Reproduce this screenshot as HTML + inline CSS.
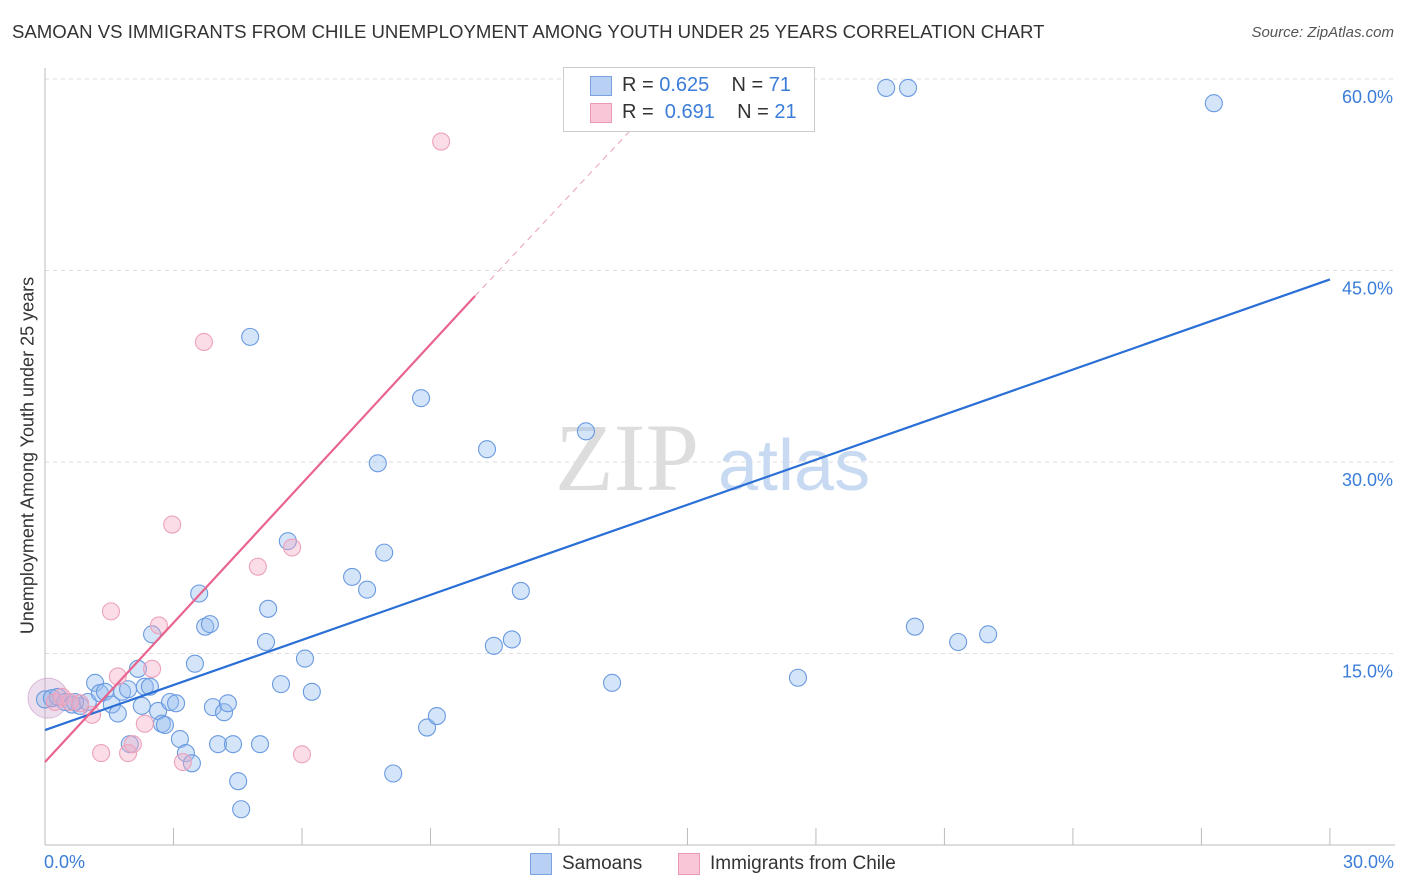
<!DOCTYPE html>
<html><head><meta charset="utf-8"><style>
body{margin:0;background:#fff;font-family:"Liberation Sans",sans-serif;}
#wrap{position:relative;width:1406px;height:892px;overflow:hidden;}
.t{position:absolute;white-space:nowrap;}
</style></head><body>
<div id="wrap">
<div class="t" style="left:12px;top:21px;font-size:18.6px;color:#333;">SAMOAN VS IMMIGRANTS FROM CHILE UNEMPLOYMENT AMONG YOUTH UNDER 25 YEARS CORRELATION CHART</div>
<div class="t" style="right:12px;top:24px;font-size:15px;color:#555;font-style:italic;">Source: ZipAtlas.com</div>
<svg id="svg" width="1406" height="892" style="position:absolute;left:0;top:0;"></svg>
</div>
<script>
const blueX=[0,0.16,0.30,0.47,0.63,0.82,1.00,1.17,1.28,1.40,1.56,1.70,1.80,1.94,2.17,2.33,2.26,2.50,2.64,2.73,2.80,2.92,3.06,3.15,3.29,3.43,3.50,3.60,3.74,3.85,3.92,4.04,4.18,4.27,4.39,4.51,4.58,4.79,5.02,5.16,5.21,5.51,5.67,6.07,6.23,7.17,7.52,7.77,7.92,8.13,8.78,8.92,9.15,10.32,10.48,10.90,11.11,12.63,13.24,17.58,19.64,20.15,20.31,21.32,22.02,27.29,1.98,2.45,0.70];
const blueY=[11.4,11.5,11.6,11.2,11.0,10.9,11.2,12.7,11.9,12.0,11.0,10.3,12.0,12.2,13.8,12.4,10.9,16.5,10.5,9.5,9.4,11.2,11.1,8.3,7.2,6.4,14.2,19.7,17.1,17.3,10.8,7.9,10.4,11.1,7.9,5.0,2.8,39.8,7.9,15.9,18.5,12.6,23.8,14.6,12.0,21.0,20.0,29.9,22.9,5.6,35.0,9.2,10.1,31.0,15.6,16.1,19.9,32.4,12.7,13.1,59.3,59.3,17.1,15.9,16.5,58.1,7.9,12.4,11.2];
const pinkX=[0.23,0.40,0.58,0.82,1.10,1.31,1.54,1.70,1.94,2.05,2.33,2.50,2.66,2.97,3.22,3.71,4.97,5.77,6.00,9.25];
const pinkY=[11.2,11.6,11.2,11.1,10.2,7.2,18.3,13.2,7.2,7.9,9.5,13.8,17.2,25.1,6.5,39.4,21.8,23.3,7.1,55.1];
const bigX=[0.07],bigY=[11.5];
const yTicks=[15,30,45,60];
const blueLine=[[0,9.0],[30,44.3]];
const pinkLine=[[0,6.5],[10.04,43.0]];
const pinkDash=[[10.04,43.0],[13.9,56.8]];
const X=v=>45+v*42.83, Y=v=>845-v*12.767;
const svg=document.getElementById('svg');const NS='http://www.w3.org/2000/svg';
function mk(tag,attrs,name){const e=document.createElementNS(NS,tag);for(const k in attrs)e.setAttribute(k,attrs[k]);


svg.appendChild(e);return e;}
yTicks.forEach(v=>{mk('line',{x1:45,x2:1395,y1:Y(v),y2:Y(v),stroke:'#ddd','stroke-dasharray':'4,4'},'gridline');
const t=mk('text',{x:1393,y:Y(v)+24,'text-anchor':'end','font-size':18,fill:'#3b7dd8','font-family':'Liberation Sans'},'y-tick-label');t.textContent=v.toFixed(1)+'%';});
mk('line',{x1:45,x2:45,y1:68,y2:845,stroke:'#bbb'},'y-axis');
mk('line',{x1:45,x2:1395,y1:845,y2:845,stroke:'#bbb'},'x-axis');
for(let i=1;i<=10;i++)mk('line',{x1:X(i*3),x2:X(i*3),y1:828,y2:845,stroke:'#bbb'},'x-tick');
const wm=mk('text',{x:555,y:490,'font-size':96,fill:'#ddd','font-family':'Liberation Serif'},'watermark-zip');wm.textContent='ZIP';
const wm2=mk('text',{x:718,y:490,'font-size':72,fill:'#c8daf2','font-family':'Liberation Sans'},'watermark-atlas');wm2.textContent='atlas';
mk('circle',{cx:X(bigX[0]),cy:Y(bigY[0]),r:20,fill:'rgba(200,160,200,0.35)',stroke:'rgba(200,150,200,0.6)'},'large-point');
blueX.forEach((x,i)=>mk('circle',{cx:X(x),cy:Y(blueY[i]),r:8.5,fill:'rgba(150,190,240,0.4)',stroke:'#6a9ae0','stroke-width':1.1},'samoan-point'));
pinkX.forEach((x,i)=>mk('circle',{cx:X(x),cy:Y(pinkY[i]),r:8.5,fill:'rgba(245,170,195,0.4)',stroke:'#eca2bb','stroke-width':1.1},'chile-point'));
mk('line',{x1:X(blueLine[0][0]),y1:Y(blueLine[0][1]),x2:X(blueLine[1][0]),y2:Y(blueLine[1][1]),stroke:'#2a6fd6','stroke-width':2.2},'samoan-trendline');
mk('line',{x1:X(pinkLine[0][0]),y1:Y(pinkLine[0][1]),x2:X(pinkLine[1][0]),y2:Y(pinkLine[1][1]),stroke:'#e8648e','stroke-width':2.2},'chile-trendline');
mk('line',{x1:X(pinkDash[0][0]),y1:Y(pinkDash[0][1]),x2:X(pinkDash[1][0]),y2:Y(pinkDash[1][1]),stroke:'#eaa0b8','stroke-width':1,'stroke-dasharray':'6,5'},'chile-trendline-extension');
</script>
<div class="t" style="left:44px;top:852px;font-size:18px;color:#3b7dd8;">0.0%</div>
<div class="t" style="right:12px;top:852px;font-size:18px;color:#3b7dd8;">30.0%</div>
<div class="t" style="left:-172px;top:445px;transform:rotate(-90deg);width:400px;text-align:center;font-size:18px;color:#333;">Unemployment Among Youth under 25 years</div>
<div style="position:absolute;left:563px;top:67px;width:250px;height:63px;border:1px solid #ccc;background:#fff;font-size:20px;color:#333;">
<div style="position:absolute;left:26px;top:8px;width:20px;height:18px;background:#b8d0f4;border:1px solid #7ba3e0;"></div>
<div class="t" style="left:58px;top:6px;">R = <span style="color:#3b7dd8">0.625</span>&nbsp;&nbsp;&nbsp; N = <span style="color:#3b7dd8">71</span></div>
<div style="position:absolute;left:26px;top:35px;width:20px;height:18px;background:#f8c6d6;border:1px solid #eb9ab6;"></div>
<div class="t" style="left:58px;top:33px;">R =&nbsp; <span style="color:#3b7dd8">0.691</span>&nbsp;&nbsp;&nbsp; N = <span style="color:#3b7dd8">21</span></div>
</div>
<div style="position:absolute;left:530px;top:853px;width:20px;height:20px;background:#b8d0f4;border:1px solid #7ba3e0;"></div>
<div class="t" style="left:562px;top:853px;font-size:19px;color:#333;">Samoans</div>
<div style="position:absolute;left:678px;top:853px;width:20px;height:20px;background:#f8c6d6;border:1px solid #eb9ab6;"></div>
<div class="t" style="left:710px;top:853px;font-size:19px;color:#333;">Immigrants from Chile</div>
</body></html>
